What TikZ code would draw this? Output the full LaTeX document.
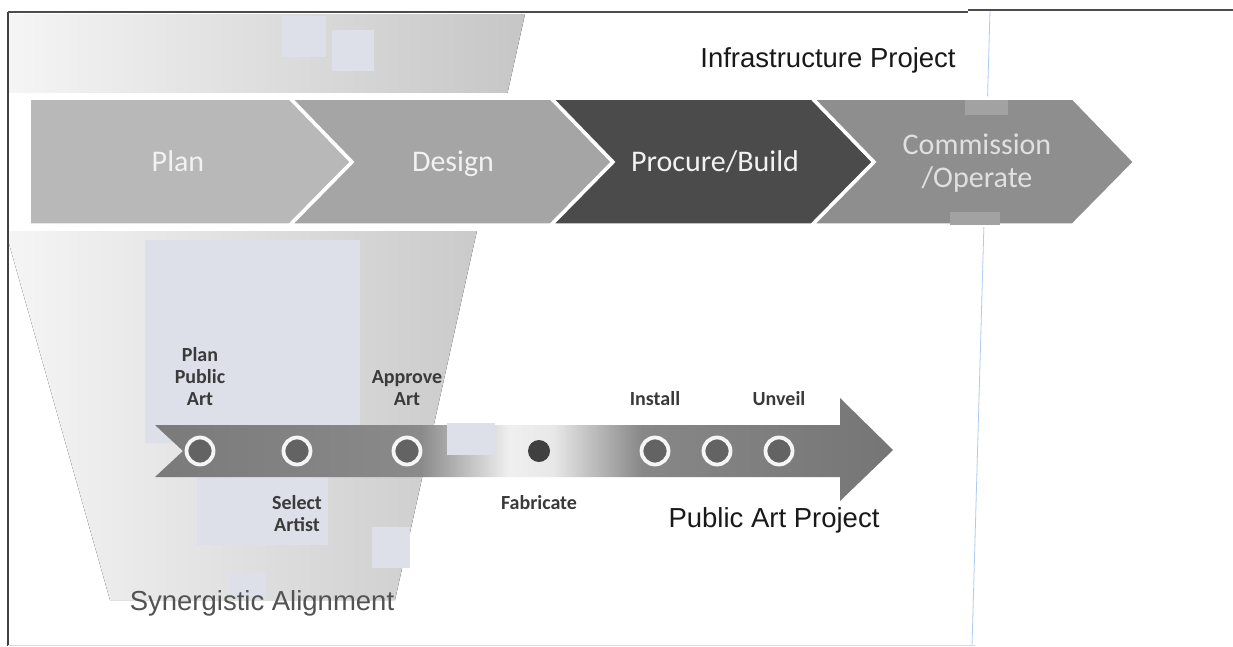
\documentclass[tikz,border=0pt]{standalone}
\usepackage{fontspec}
\setmainfont{Liberation Sans}
\newfontfamily\calibri{Carlito}
\usetikzlibrary{positioning}

\definecolor{funnelgray}{HTML}{C6C6C6}
\definecolor{scanblue}{HTML}{DEE0E9}
\definecolor{scangray}{HTML}{A2A2A2}
\definecolor{planfill}{HTML}{B8B8B8}
\definecolor{designfill}{HTML}{A5A5A5}
\definecolor{buildfill}{HTML}{4B4B4B}
\definecolor{opfill}{HTML}{8E8E8E}
\definecolor{bandgray}{HTML}{7A7A7A}
\definecolor{ringfill}{HTML}{636363}
\definecolor{labelgray}{HTML}{3A3A3A}
\definecolor{rulerblue}{HTML}{AFCBEF}

% grey band that fades out around the fabrication step
\pgfdeclarehorizontalshading{bandfade}{100bp}{color(0bp)=(bandgray); color(25bp)=(bandgray);
  color(43bp)=(bandgray!88!white); color(49bp)=(white!94!black); color(52bp)=(white!91!black);
  color(58bp)=(bandgray!90!white); color(75bp)=(bandgray!96!black); color(100bp)=(bandgray!96!black)}

% one phase arrow: left x, fill colour, notch depth
\newcommand{\chevshape}[3]{%
  \filldraw[fill=#2, draw=white, line width=3.5pt, line join=miter]
    (#1,98) -- ++(261,0) -- ++(62,64) -- ++(-62,63) -- ++(-261,0) -- ++(#3,-63) -- cycle;}

\tikzset{
  chevtext/.style={anchor=base, text=white!95!black, font=\calibri\fontsize{30}{33}\selectfont, align=center},
  ring/.style={circle, fill=ringfill, draw=white!96!black, line width=3.8pt, minimum size=27pt, inner sep=0pt},
  dot/.style={circle, fill=black!75, minimum size=22pt, inner sep=0pt},
  steplabel/.style={text=labelgray, font=\calibri\bfseries\fontsize{20}{22}\selectfont, align=center, inner sep=0pt},
  title/.style={anchor=base, font=\fontsize{27.5}{30}\selectfont},
  scanpatch/.style={fill=scanblue}
}

\begin{document}
\begin{tikzpicture}[x=1pt, y=-1pt]
  \useasboundingbox[fill=white] (0,0) rectangle (1233,646);

  % funnel behind both projects
  \fill[left color=white!96!black, right color=funnelgray]
    (8,14) -- (525,14) -- (395,600) -- (110,600) -- (8,240) -- cycle;
  \fill[white] (8,93) rectangle (1233,231);
  \draw[rulerblue, line width=0.8pt] (990,10) -- (972,646);

  % infrastructure phases
  \chevshape{29}{planfill}{0}
  \chevshape{290}{designfill}{62}
  \chevshape{551}{buildfill}{62}
  \chevshape{812}{opfill}{62}
  \node[chevtext] (plan) at (178,171) {Plan};
  \node[chevtext] (design) at (453,171) {Design};
  \node[chevtext] (build) at (715,171) {Procure/Build};
  \node[chevtext, anchor=center, text=white!88!black] (operate) at (977,163) {Commission\\/Operate};
  \fill[scangray] (965,100) rectangle (1008,115);
  \fill[scangray] (950,212) rectangle (1000,225);

  % pale patches
  \fill[scanpatch] (282,16) rectangle (326,57);
  \fill[scanpatch] (332,30) rectangle (374,71);
  \fill[scanpatch] (145,240) rectangle (360,443);
  \fill[scanpatch] (197,462) rectangle (328,545);
  \fill[scanpatch] (372,527) rectangle (410,568);
  \fill[scanpatch] (230,573) rectangle (266,598);

  % public art timeline
  \path[shading=bandfade] (155,425) -- (840,425) -- (840,398) -- (893,450) -- (840,501)
    -- (840,477) -- (155,477) -- (183,451) -- cycle;
  \fill[scanpatch] (447,423) rectangle (495,455);

  \node[ring] (planart) at (200,451) {};
  \node[ring] (select) at (297,451) {};
  \node[ring] (approve) at (407,451) {};
  \node[dot] (fabricate) at (539,451) {};
  \node[ring] (install) at (655,451) {};
  \node[ring] (mid) at (717,451) {};
  \node[ring] (unveil) at (779,451) {};

  \node[steplabel, above=30pt of planart] (planlbl) {Plan\\Public\\Art};
  \node[steplabel, above=30pt of approve] (approvelbl) {Approve\\Art};
  \node[steplabel, above=30pt of install] (installlbl) {Install};
  \node[steplabel, above=30pt of unveil] (unveillbl) {Unveil};
  \node[steplabel, below=29pt of select] (selectlbl) {Select\\Artist};
  \node[steplabel, below=33pt of fabricate] (fablbl) {Fabricate};

  % headings
  \node[title, text=black!90] (infra) at (828,67) {Infrastructure Project};
  \node[title, text=black!90] (public) at (774,527) {Public Art Project};
  \node[title, text=black!68] (synergy) at (262,610) {Synergistic Alignment};

  % frame
  \draw[black!75, line width=1.6pt] (8,12) -- (8,646);
  \draw[black!70, line width=1.2pt] (8,12) -- (968,12);
  \draw[black!70, line width=1.2pt] (968,10) -- (1233,10);
  \draw[black!15, line width=1pt] (8,645) -- (975,645);
\end{tikzpicture}
\end{document}
